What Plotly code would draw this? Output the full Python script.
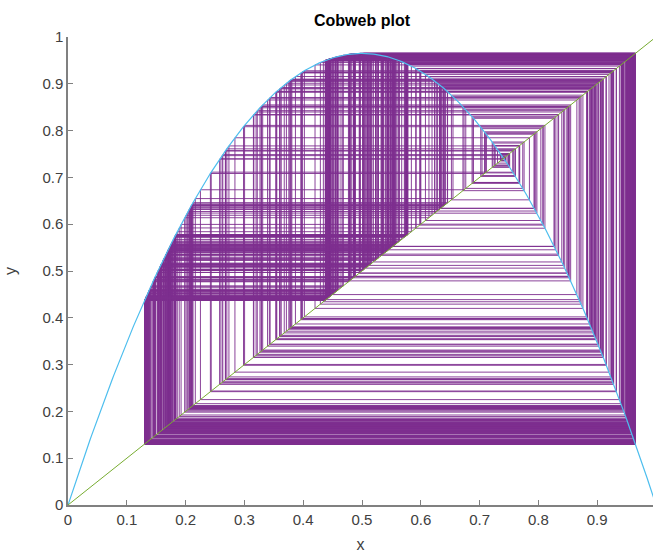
import numpy as np
import plotly.graph_objects as go

# Logistic map parameters
r = 3.86          # peak of parabola ~0.965
x0 = 0.7405       # start near the unstable fixed point (~0.74)
n_iter = 600

x_ticks = [0, 0.1, 0.2, 0.3, 0.4, 0.5, 0.6, 0.7, 0.8, 0.9, 1]
y_ticks = [0, 0.1, 0.2, 0.3, 0.4, 0.5, 0.6, 0.7, 0.8, 0.9, 1]

def f(x):
    return r * x * (1 - x)

# cobweb path
xs = [x0]
for _ in range(n_iter):
    xs.append(f(xs[-1]))
cx, cy = [], []
for i in range(n_iter):
    cx += [xs[i], xs[i]]
    cy += [xs[i], xs[i + 1]]
cx.append(xs[n_iter]); cy.append(xs[n_iter])

xc = np.linspace(0, 1, 401)

fig = go.Figure()
fig.add_trace(go.Scatter(x=cx, y=cy, mode="lines",
                         line=dict(color="#7E2F8E", width=0.9), hoverinfo="skip"))
fig.add_trace(go.Scatter(x=xc, y=f(xc), mode="lines",
                         line=dict(color="#4DBEEE", width=1.2)))
fig.add_trace(go.Scatter(x=[0, 1], y=[0, 1], mode="lines",
                         line=dict(color="#77AC30", width=1)))

FONT = "Liberation Sans, Arial"
axis_common = dict(showgrid=False, zeroline=False, showline=True, linecolor="#808080",
                   linewidth=1.5, ticks="inside", ticklen=5, tickcolor="#808080",
                   tickfont=dict(family=FONT, size=15, color="#404040"),
                   mirror=False)

fig.update_layout(
    width=653, height=560,
    margin=dict(l=68, r=0, t=37, b=55),
    paper_bgcolor="white", plot_bgcolor="white",
    showlegend=False,
    title=dict(text="<b>Cobweb plot</b>", x=(68 + 656) / 2 / 653, xanchor="center",
               y=1 - 20 / 560, yanchor="middle",
               font=dict(family=FONT, size=16, color="#000000")),
    xaxis=dict(range=[0, (653 - 68) / 588], tickvals=x_ticks,
               title=dict(text="x", font=dict(family=FONT, size=16, color="#404040"), standoff=12),
               **axis_common),
    yaxis=dict(range=[0, 1], tickvals=y_ticks,
               title=dict(text="y", font=dict(family=FONT, size=16, color="#404040"), standoff=22),
               **axis_common),
)
fig.write_html("out.html")
